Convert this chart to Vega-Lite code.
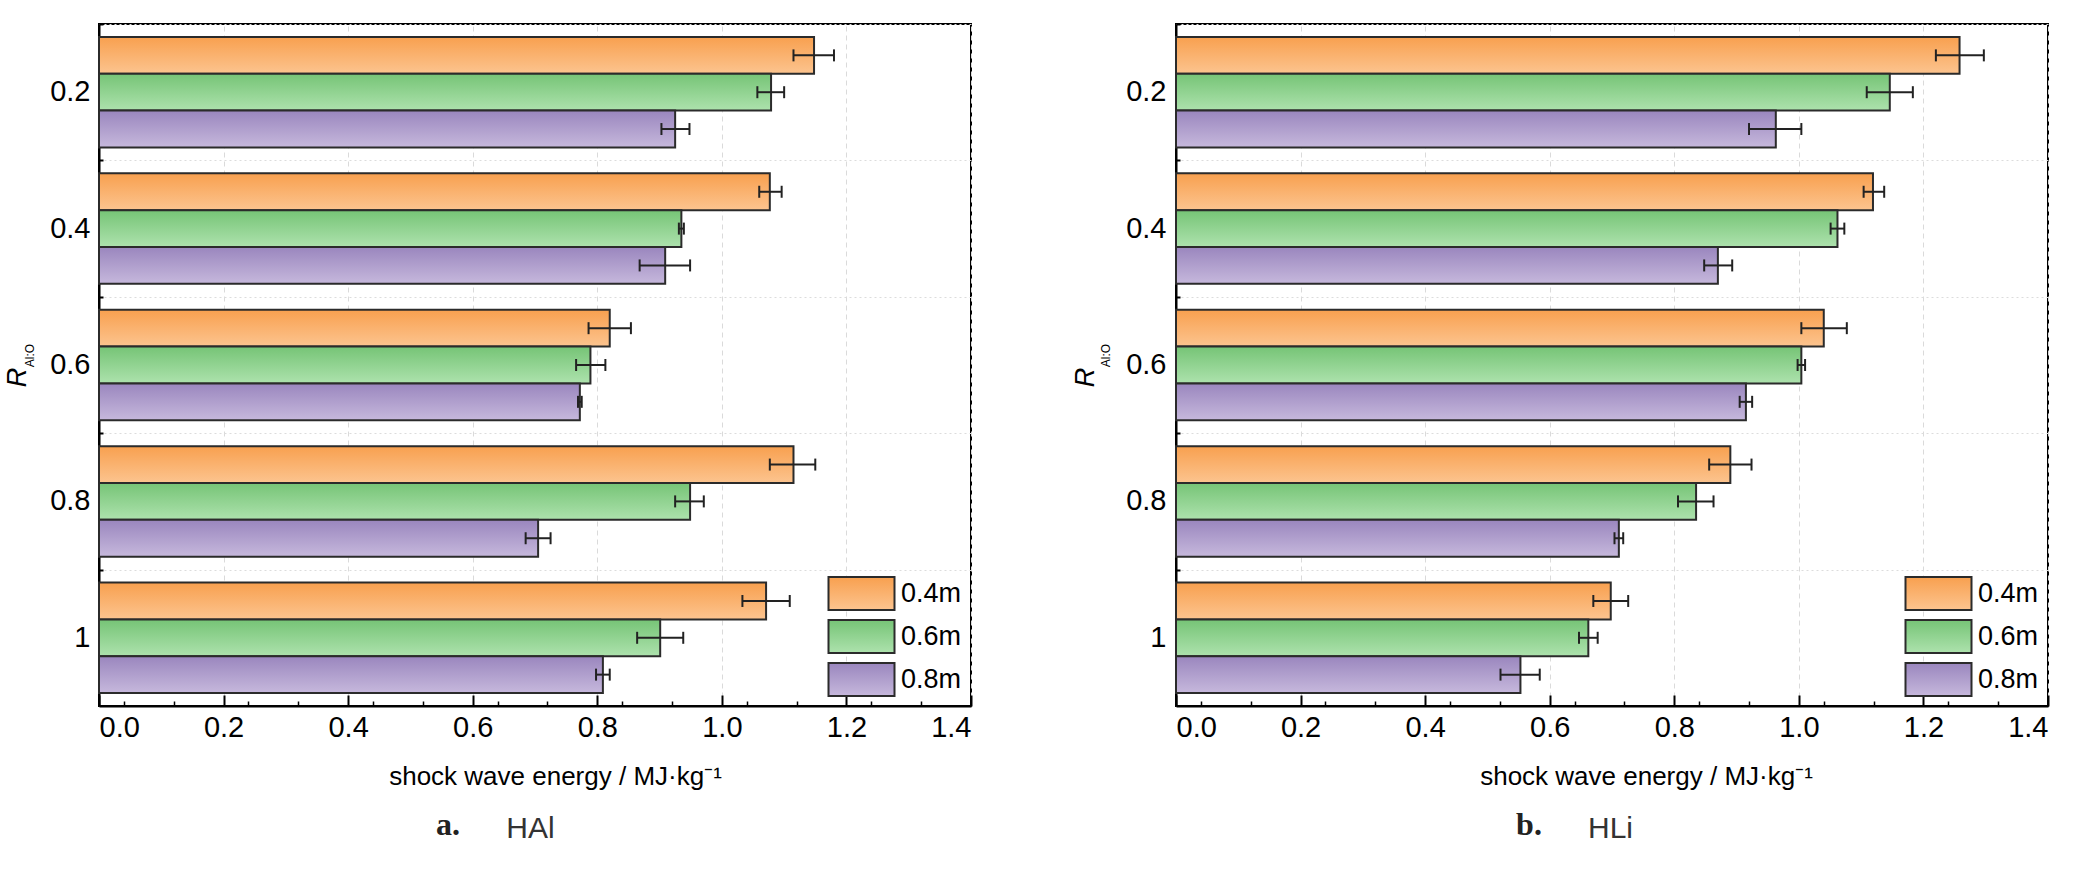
{
  "$schema": "https://vega.github.io/schema/vega-lite/v6.json",
  "background": "white",
  "padding": {"left": 2, "top": 22, "right": 0, "bottom": 0},
  "spacing": 97,
  "datasets": {
    "hal": [
      {"r": "0.2", "d": "0.4m", "v": 1.148, "lo": 1.115, "hi": 1.180},
      {"r": "0.2", "d": "0.6m", "v": 1.079, "lo": 1.057, "hi": 1.100},
      {"r": "0.2", "d": "0.8m", "v": 0.925, "lo": 0.903, "hi": 0.948},
      {"r": "0.4", "d": "0.4m", "v": 1.077, "lo": 1.060, "hi": 1.096},
      {"r": "0.4", "d": "0.6m", "v": 0.935, "lo": 0.931, "hi": 0.939},
      {"r": "0.4", "d": "0.8m", "v": 0.909, "lo": 0.868, "hi": 0.949},
      {"r": "0.6", "d": "0.4m", "v": 0.820, "lo": 0.786, "hi": 0.854},
      {"r": "0.6", "d": "0.6m", "v": 0.789, "lo": 0.766, "hi": 0.813},
      {"r": "0.6", "d": "0.8m", "v": 0.772, "lo": 0.769, "hi": 0.775},
      {"r": "0.8", "d": "0.4m", "v": 1.115, "lo": 1.077, "hi": 1.150},
      {"r": "0.8", "d": "0.6m", "v": 0.949, "lo": 0.925, "hi": 0.971},
      {"r": "0.8", "d": "0.8m", "v": 0.705, "lo": 0.685, "hi": 0.725},
      {"r": "1", "d": "0.4m", "v": 1.071, "lo": 1.033, "hi": 1.109},
      {"r": "1", "d": "0.6m", "v": 0.901, "lo": 0.864, "hi": 0.938},
      {"r": "1", "d": "0.8m", "v": 0.809, "lo": 0.798, "hi": 0.820}
    ],
    "hli": [
      {"r": "0.2", "d": "0.4m", "v": 1.258, "lo": 1.220, "hi": 1.297},
      {"r": "0.2", "d": "0.6m", "v": 1.146, "lo": 1.109, "hi": 1.183},
      {"r": "0.2", "d": "0.8m", "v": 0.963, "lo": 0.920, "hi": 1.004},
      {"r": "0.4", "d": "0.4m", "v": 1.119, "lo": 1.104, "hi": 1.137},
      {"r": "0.4", "d": "0.6m", "v": 1.062, "lo": 1.051, "hi": 1.073},
      {"r": "0.4", "d": "0.8m", "v": 0.870, "lo": 0.848, "hi": 0.893},
      {"r": "0.6", "d": "0.4m", "v": 1.040, "lo": 1.004, "hi": 1.077},
      {"r": "0.6", "d": "0.6m", "v": 1.004, "lo": 0.998, "hi": 1.010},
      {"r": "0.6", "d": "0.8m", "v": 0.915, "lo": 0.905, "hi": 0.925},
      {"r": "0.8", "d": "0.4m", "v": 0.890, "lo": 0.856, "hi": 0.924},
      {"r": "0.8", "d": "0.6m", "v": 0.835, "lo": 0.806, "hi": 0.863},
      {"r": "0.8", "d": "0.8m", "v": 0.711, "lo": 0.704, "hi": 0.718},
      {"r": "1", "d": "0.4m", "v": 0.698, "lo": 0.670, "hi": 0.726},
      {"r": "1", "d": "0.6m", "v": 0.662, "lo": 0.647, "hi": 0.677},
      {"r": "1", "d": "0.8m", "v": 0.553, "lo": 0.521, "hi": 0.584}
    ]
  },
  "config": {
    "font": "Liberation Sans",
    "view": {"stroke": "#000", "strokeWidth": 2},
    "axis": {
      "domainColor": "#000",
      "domainWidth": 2,
      "tickColor": "#000",
      "labelColor": "#000",
      "titleColor": "#000",
      "titleFontWeight": "normal",
      "labelFont": "Liberation Sans"
    }
  },
  "resolve": {"scale": {"stroke": "independent"}, "legend": {"stroke": "independent"}},
  "hconcat": [
    {
      "data": {"name": "hal"},
      "width": 872,
      "height": 682,
      "title": {"text": "a.", "orient": "bottom", "anchor": "middle", "frame": "group", "font": "Liberation Serif", "fontWeight": "bold", "fontSize": 32, "color": "#222", "dx": -87, "offset": -33},
      "layer": [
        {
          "mark": {"type": "bar", "strokeWidth": 2, "fill": {"expr": "(datum.d || datum.value) === '0.4m' ? {gradient: 'linear', x1: 0, y1: 0, x2: 0, y2: 1, stops: [{offset: 0, color: '#f8a04f'}, {offset: 1, color: '#fcc48f'}]} : (datum.d || datum.value) === '0.6m' ? {gradient: 'linear', x1: 0, y1: 0, x2: 0, y2: 1, stops: [{offset: 0, color: '#76c476'}, {offset: 1, color: '#ade2ad'}]} : {gradient: 'linear', x1: 0, y1: 0, x2: 0, y2: 1, stops: [{offset: 0, color: '#9a86be'}, {offset: 1, color: '#c6b8dc'}]}"}},
          "encoding": {
            "y": {
              "field": "r", "type": "nominal", "sort": ["0.2", "0.4", "0.6", "0.8", "1"],
              "scale": {"paddingInner": 0.19, "paddingOuter": 0.095},
              "axis": {"title": "R", "titleFontStyle": "italic", "titleFontSize": 27, "titleAngle": 270, "titleAlign": "center", "titleBaseline": "middle", "titleX": -82, "titleY": 353, "labelFontSize": 29, "labelPadding": 18, "tickSize": -9, "tickWidth": 2, "grid": false}
            },
            "yOffset": {"field": "d", "type": "nominal", "sort": ["0.4m", "0.6m", "0.8m"], "scale": {"paddingInner": 0, "paddingOuter": 0}},
            "x": {
              "field": "v", "type": "quantitative",
              "scale": {"domain": [0, 1.4], "nice": false},
              "axis": {"values": [0, 0.2, 0.4, 0.6, 0.8, 1.0, 1.2, 1.4], "format": ".1f", "labelFontSize": 29, "labelPadding": 18, "tickSize": -11, "tickWidth": 2, "grid": true, "gridColor": "#dadada", "gridDash": [5, 4], "gridWidth": 1, "title": "shock wave energy / MJ·kg⁻¹", "titleFontSize": 26, "titleX": 456, "titleY": 78, "titleAlign": "center", "titleBaseline": "alphabetic"}
            },
            "stroke": {
              "field": "d", "type": "nominal",
              "scale": {"domain": ["0.4m", "0.6m", "0.8m"], "range": ["#2b2b2b", "#2b2b2b", "#2b2b2b"]},
              "legend": {"orient": "none", "legendX": 745, "legendY": 552, "title": null, "padding": 0, "symbolType": "M-2,-1H2V1H-2Z", "symbolSize": 1089, "symbolStrokeWidth": 2, "symbolOpacity": 1, "labelFont": "Liberation Sans", "labelFontSize": 27, "labelColor": "#000", "labelOffset": 22, "rowPadding": 2}
            }
          }
        },
        {
          "encoding": {
            "y": {
              "field": "r", "type": "nominal", "sort": ["0.2", "0.4", "0.6", "0.8", "1"],
              "scale": {"paddingInner": 0.19, "paddingOuter": 0.095},
              "axis": {"orient": "left", "labels": false, "domain": false, "tickSize": -4, "tickWidth": 2, "bandPosition": 0, "tickOffset": -13, "grid": true, "gridColor": "#dcdcdc", "gridDash": [2, 3], "gridWidth": 1, "title": "Al:O", "titleFont": "Liberation Sans", "titleFontSize": 12, "titleAngle": 270, "titleAlign": "center", "titleBaseline": "middle", "titleX": -70, "titleY": 331}
            },
            "yOffset": {"field": "d", "type": "nominal", "sort": ["0.4m", "0.6m", "0.8m"], "scale": {"paddingInner": 0, "paddingOuter": 0}}
          },
          "layer": [
            {
              "mark": {"type": "rule", "stroke": "#222", "strokeWidth": 2},
              "encoding": {
                "x": {"field": "lo", "type": "quantitative", "scale": {"domain": [0, 1.4], "nice": false},
                  "axis": {"orient": "bottom", "values": [0.04, 0.08, 0.12, 0.16, 0.24, 0.28, 0.32, 0.36, 0.44, 0.48, 0.52, 0.56, 0.64, 0.68, 0.72, 0.76, 0.84, 0.88, 0.92, 0.96, 1.04, 1.08, 1.12, 1.16, 1.24, 1.28, 1.32, 1.36], "labels": false, "domain": false, "grid": false, "tickSize": -5, "tickWidth": 1.5, "title": "HAl", "titleFontSize": 30, "titleColor": "#333", "titleX": 431, "titleY": 131, "titleAlign": "center", "titleBaseline": "alphabetic"}},
                "x2": {"field": "hi"}
              }
            },
            {
              "mark": {"type": "tick", "color": "#222", "thickness": 2, "size": 12, "opacity": 1},
              "encoding": {"x": {"field": "lo", "type": "quantitative", "title": "HAl"}}
            },
            {
              "mark": {"type": "tick", "color": "#222", "thickness": 2, "size": 12, "opacity": 1},
              "encoding": {"x": {"field": "hi", "type": "quantitative", "title": "HAl"}}
            }
          ]
        }
      ],
      "resolve": {"scale": {"x": "independent", "y": "independent"}}
    },
    {
      "data": {"name": "hli"},
      "width": 872,
      "height": 682,
      "title": {"text": "b.", "orient": "bottom", "anchor": "middle", "frame": "group", "font": "Liberation Serif", "fontWeight": "bold", "fontSize": 32, "color": "#222", "dx": -83, "offset": -33},
      "layer": [
        {
          "mark": {"type": "bar", "strokeWidth": 2, "fill": {"expr": "(datum.d || datum.value) === '0.4m' ? {gradient: 'linear', x1: 0, y1: 0, x2: 0, y2: 1, stops: [{offset: 0, color: '#f8a04f'}, {offset: 1, color: '#fcc48f'}]} : (datum.d || datum.value) === '0.6m' ? {gradient: 'linear', x1: 0, y1: 0, x2: 0, y2: 1, stops: [{offset: 0, color: '#76c476'}, {offset: 1, color: '#ade2ad'}]} : {gradient: 'linear', x1: 0, y1: 0, x2: 0, y2: 1, stops: [{offset: 0, color: '#9a86be'}, {offset: 1, color: '#c6b8dc'}]}"}},
          "encoding": {
            "y": {
              "field": "r", "type": "nominal", "sort": ["0.2", "0.4", "0.6", "0.8", "1"],
              "scale": {"paddingInner": 0.19, "paddingOuter": 0.095},
              "axis": {"title": "R", "titleFontStyle": "italic", "titleFontSize": 27, "titleAngle": 270, "titleAlign": "center", "titleBaseline": "middle", "titleX": -91, "titleY": 353, "labelFontSize": 29, "labelPadding": 19, "tickSize": -9, "tickWidth": 2, "grid": false}
            },
            "yOffset": {"field": "d", "type": "nominal", "sort": ["0.4m", "0.6m", "0.8m"], "scale": {"paddingInner": 0, "paddingOuter": 0}},
            "x": {
              "field": "v", "type": "quantitative",
              "scale": {"domain": [0, 1.4], "nice": false},
              "axis": {"values": [0, 0.2, 0.4, 0.6, 0.8, 1.0, 1.2, 1.4], "format": ".1f", "labelFontSize": 29, "labelPadding": 18, "tickSize": -11, "tickWidth": 2, "grid": true, "gridColor": "#dadada", "gridDash": [5, 4], "gridWidth": 1, "title": "shock wave energy / MJ·kg⁻¹", "titleFontSize": 26, "titleX": 470, "titleY": 78, "titleAlign": "center", "titleBaseline": "alphabetic"}
            },
            "stroke": {
              "field": "d", "type": "nominal",
              "scale": {"domain": ["0.4m", "0.6m", "0.8m"], "range": ["#2b2b2b", "#2b2b2b", "#2b2b2b"]},
              "legend": {"orient": "none", "legendX": 745, "legendY": 552, "title": null, "padding": 0, "symbolType": "M-2,-1H2V1H-2Z", "symbolSize": 1089, "symbolStrokeWidth": 2, "symbolOpacity": 1, "labelFont": "Liberation Sans", "labelFontSize": 27, "labelColor": "#000", "labelOffset": 22, "rowPadding": 2}
            }
          }
        },
        {
          "encoding": {
            "y": {
              "field": "r", "type": "nominal", "sort": ["0.2", "0.4", "0.6", "0.8", "1"],
              "scale": {"paddingInner": 0.19, "paddingOuter": 0.095},
              "axis": {"orient": "left", "labels": false, "domain": false, "tickSize": -4, "tickWidth": 2, "bandPosition": 0, "tickOffset": -13, "grid": true, "gridColor": "#dcdcdc", "gridDash": [2, 3], "gridWidth": 1, "title": "Al:O", "titleFont": "Liberation Sans", "titleFontSize": 12, "titleAngle": 270, "titleAlign": "center", "titleBaseline": "middle", "titleX": -71, "titleY": 331}
            },
            "yOffset": {"field": "d", "type": "nominal", "sort": ["0.4m", "0.6m", "0.8m"], "scale": {"paddingInner": 0, "paddingOuter": 0}}
          },
          "layer": [
            {
              "mark": {"type": "rule", "stroke": "#222", "strokeWidth": 2},
              "encoding": {
                "x": {"field": "lo", "type": "quantitative", "scale": {"domain": [0, 1.4], "nice": false},
                  "axis": {"orient": "bottom", "values": [0.04, 0.08, 0.12, 0.16, 0.24, 0.28, 0.32, 0.36, 0.44, 0.48, 0.52, 0.56, 0.64, 0.68, 0.72, 0.76, 0.84, 0.88, 0.92, 0.96, 1.04, 1.08, 1.12, 1.16, 1.24, 1.28, 1.32, 1.36], "labels": false, "domain": false, "grid": false, "tickSize": -5, "tickWidth": 1.5, "title": "HLi", "titleFontSize": 30, "titleColor": "#333", "titleX": 434, "titleY": 131, "titleAlign": "center", "titleBaseline": "alphabetic"}},
                "x2": {"field": "hi"}
              }
            },
            {
              "mark": {"type": "tick", "color": "#222", "thickness": 2, "size": 12, "opacity": 1},
              "encoding": {"x": {"field": "lo", "type": "quantitative", "title": "HLi"}}
            },
            {
              "mark": {"type": "tick", "color": "#222", "thickness": 2, "size": 12, "opacity": 1},
              "encoding": {"x": {"field": "hi", "type": "quantitative", "title": "HLi"}}
            }
          ]
        }
      ],
      "resolve": {"scale": {"x": "independent", "y": "independent"}}
    }
  ]
}
